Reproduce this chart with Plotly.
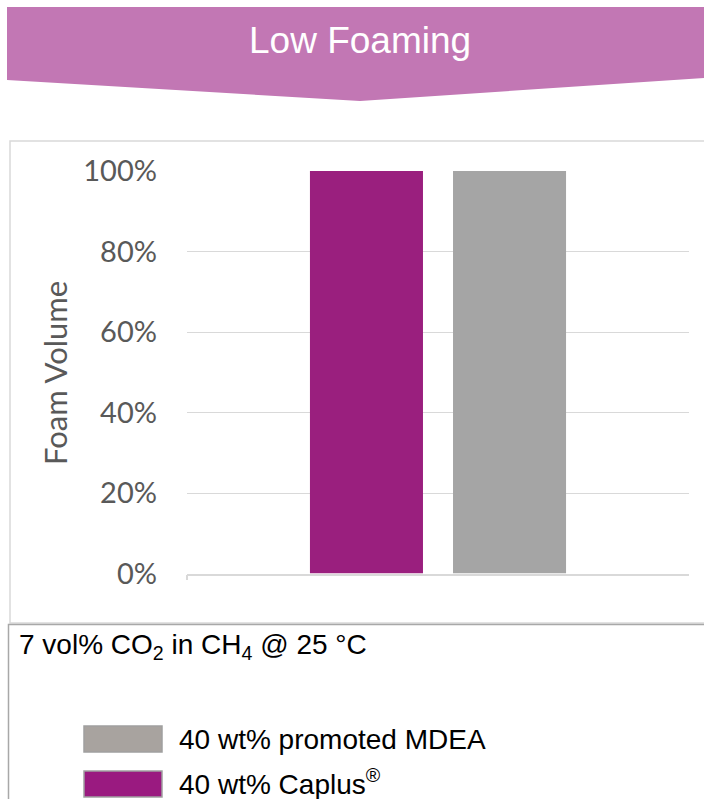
import plotly.graph_objects as go

# Foam volume test results (fraction of initial foam volume)
categories = [""]
caplus_values = [1.00]
mdea_values = [1.00]
series_names = ["40 wt% Caplus<sup>®</sup>", "40 wt% promoted MDEA"]
tick_values = [0, 0.2, 0.4, 0.6, 0.8, 1.0]
tick_labels = ["0%", "20%", "40%", "60%", "80%", "100%"]

W, H = 704, 799
PURPLE = "#9A1F7E"
GRAY = "#A5A5A5"
BANNER = "#C277B4"
TXT = "#595959"


def px(x):
    return x / W


def py(y):
    return 1 - y / H


fig = go.Figure()
fig.add_trace(go.Bar(x=categories, y=caplus_values, name=series_names[0],
                     marker=dict(color=PURPLE, line=dict(width=0))))
fig.add_trace(go.Bar(x=categories, y=mdea_values, name=series_names[1],
                     marker=dict(color=GRAY, line=dict(width=0))))

shapes = []
# header banner with a chevron-shaped lower edge
banner_path = (f"M {px(7)},{py(7)} L {px(704)},{py(7)} L {px(704)},{py(78)} "
               f"L {px(360)},{py(101)} L {px(7)},{py(80)} Z")
shapes.append(dict(type="path", xref="paper", yref="paper", path=banner_path,
                   fillcolor=BANNER, line=dict(width=0), layer="below"))
# chart frame
shapes.append(dict(type="rect", xref="paper", yref="paper",
                   x0=px(10), x1=px(720), y0=py(623), y1=py(141),
                   line=dict(color="#D9D9D9", width=1.5), fillcolor="rgba(0,0,0,0)",
                   layer="below"))
# caption / legend frame
shapes.append(dict(type="rect", xref="paper", yref="paper",
                   x0=px(8.5), x1=px(720), y0=py(820), y1=py(624.5),
                   line=dict(color="#A8A8A8", width=1.5), fillcolor="rgba(0,0,0,0)",
                   layer="below"))
# legend swatches (MDEA first, then Caplus)
swatches = [(726, 752, "#A8A39F"), (771, 797, "#9A1A80")]
for y0, y1, fill in swatches:
    shapes.append(dict(type="rect", xref="paper", yref="paper",
                       x0=px(84), x1=px(162), y0=py(y1), y1=py(y0),
                       fillcolor=fill, line=dict(color="#A0A0A0", width=1.5)))

annotations = [
    dict(text="Low Foaming", x=px(360), y=py(40), xref="paper", yref="paper",
         showarrow=False, xanchor="center", yanchor="middle",
         font=dict(family="Liberation Sans", size=37, color="white")),
    dict(text="Foam Volume", x=px(55), y=py(373), xref="paper", yref="paper",
         showarrow=False, textangle=-90, xanchor="center", yanchor="middle",
         font=dict(family="Lato", size=31, color=TXT)),
    dict(text="7 vol% CO<sub>2</sub> in CH<sub>4</sub> @ 25 °C", x=px(17), y=py(627),
         xref="paper", yref="paper", showarrow=False, xanchor="left", yanchor="top",
         font=dict(family="Liberation Sans", size=28, color="black")),
    dict(text=series_names[1], x=px(177), y=py(739), xref="paper", yref="paper",
         showarrow=False, xanchor="left", yanchor="middle",
         font=dict(family="Liberation Sans", size=28, color="black")),
    dict(text=series_names[0], x=px(177), y=py(782), xref="paper", yref="paper",
         showarrow=False, xanchor="left", yanchor="middle",
         font=dict(family="Liberation Sans", size=28, color="black")),
]

fig.update_layout(
    width=W, height=H,
    margin=dict(l=0, r=0, t=0, b=0, autoexpand=False),
    paper_bgcolor="white", plot_bgcolor="white",
    showlegend=False,
    barmode="group", bargap=0.43, bargroupgap=0.21,
    shapes=shapes, annotations=annotations,
    xaxis=dict(domain=[px(187), px(689)], automargin=False, showline=True,
               linecolor="#D9D9D9", linewidth=1.5, ticks="outside",
               tickson="boundaries", ticklen=5, tickcolor="#D9D9D9", tickwidth=1.5,
               showticklabels=False, showgrid=False, fixedrange=True),
    yaxis=dict(domain=[py(573.5), py(171)], automargin=False, range=[0, 1],
               tickvals=tick_values, ticktext=tick_labels, showgrid=True,
               gridcolor="#D9D9D9", gridwidth=1.2, zeroline=False, showline=False,
               ticks="", ticklabelstandoff=29,
               tickfont=dict(family="Lato", size=29, color=TXT)),
)

fig.write_html("out.html")
